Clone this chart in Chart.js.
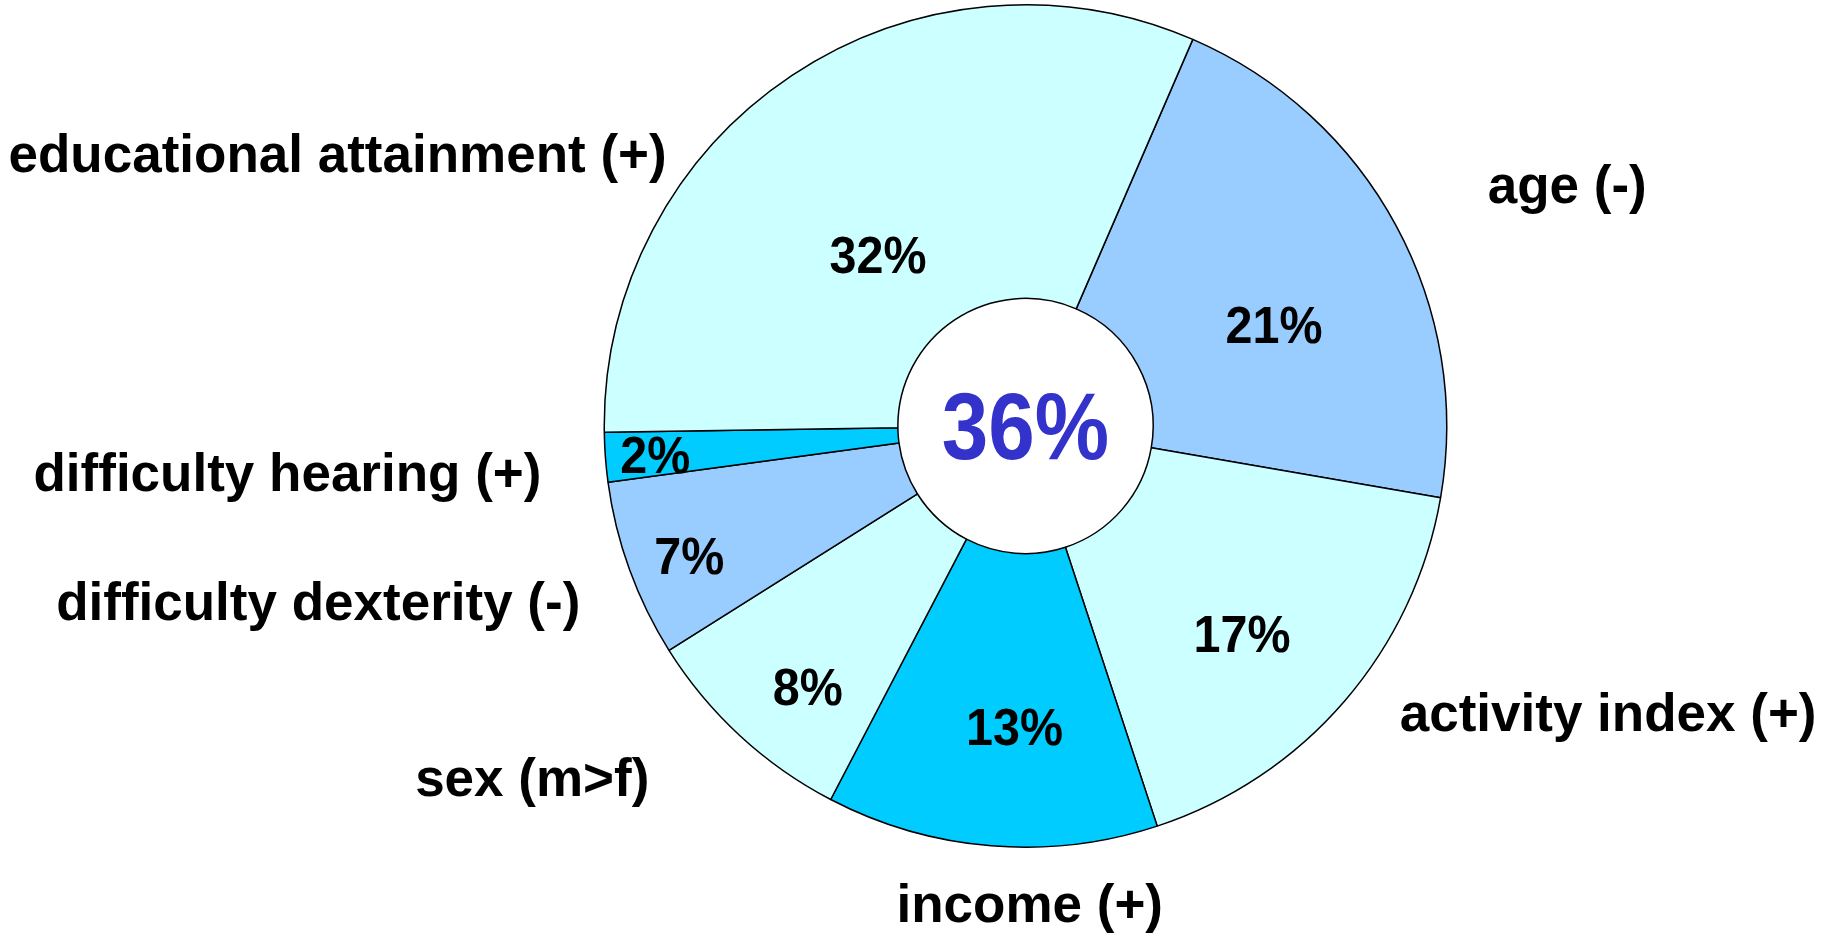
<!DOCTYPE html>
<html>
<head>
<meta charset="utf-8">
<script src="https://cdn.jsdelivr.net/npm/chart.js@4.4.0/dist/chart.umd.min.js"></script>
<style>
  html, body { margin: 0; padding: 0; background: #fff; }
  #wrap { width: 1831px; height: 937px; position: relative; }
</style>
</head>
<body>
<div id="wrap"><canvas id="donut"></canvas></div>
<script>
// slices go clockwise starting from the educational/age boundary
const categories = ['age (-)', 'activity index (+)', 'income (+)', 'sex (m>f)', 'difficulty dexterity (-)', 'difficulty hearing (+)', 'educational attainment (+)'];
const shares = [21.2, 17.2, 12.7, 8.4, 6.8, 1.9, 31.7];
const sliceColors = ['#99CCFF', '#CCFFFF', '#00CCFF', '#CCFFFF', '#99CCFF', '#00CCFF', '#CCFFFF'];
const centreLabel = '36%';

// text placement, in units of the outer radius from the centre
const nameOffsets = [[1.286, -0.564], [1.383, 0.690], [0.010, 1.143], [-1.171, 0.843], [-1.679, 0.426], [-1.752, 0.119], [-1.633, -0.638]];
const pctOffsets = [[0.590, -0.230], [0.514, 0.503], [-0.026, 0.724], [-0.517, 0.629], [-0.798, 0.317], [-0.879, 0.079], [-0.350, -0.397]];

const FONT = '"Liberation Sans", Arial, sans-serif';

function squishedText(ctx, text, x, y, font, sx) {
    ctx.save();
    ctx.translate(x, y);
    ctx.scale(sx, 1);
    ctx.font = font;
    ctx.fillText(text, 0, 0);
    ctx.restore();
}

const labelPlugin = {
    id: 'sliceLabels',
    afterDatasetsDraw(chart) {
        const ctx = chart.ctx;
        const arcs = chart.getDatasetMeta(0).data;
        const cx = arcs[0].x, cy = arcs[0].y, r = arcs[0].outerRadius;
        ctx.save();
        ctx.textAlign = 'center';
        ctx.textBaseline = 'middle';
        ctx.fillStyle = '#000';
        arcs.forEach((arc, i) => {
            ctx.font = 'bold 53px ' + FONT;
            ctx.fillText(categories[i], cx + nameOffsets[i][0] * r, cy + nameOffsets[i][1] * r);
            squishedText(ctx, Math.round(shares[i]) + '%', cx + pctOffsets[i][0] * r, cy + pctOffsets[i][1] * r, 'bold 51px ' + FONT, 0.95);
        });
        ctx.fillStyle = '#3333CC';
        squishedText(ctx, centreLabel, cx, cy + 0.016 * r, 'bold 95px ' + FONT, 0.88);
        ctx.restore();
    }
};

new Chart(document.getElementById('donut').getContext('2d'), {
    type: 'doughnut',
    data: {
        labels: categories,
        datasets: [{
            data: shares,
            backgroundColor: sliceColors,
            borderColor: '#000',
            borderWidth: 1.5
        }]
    },
    options: {
        responsive: true,
        maintainAspectRatio: false,
        animation: false,
        rotation: 23.4,
        cutout: '30.3%',
        layout: { padding: { left: 602, right: 382, top: 4, bottom: 89 } },
        plugins: {
            legend: { display: false },
            tooltip: { enabled: false }
        }
    },
    plugins: [labelPlugin]
});
</script>
</body>
</html>
